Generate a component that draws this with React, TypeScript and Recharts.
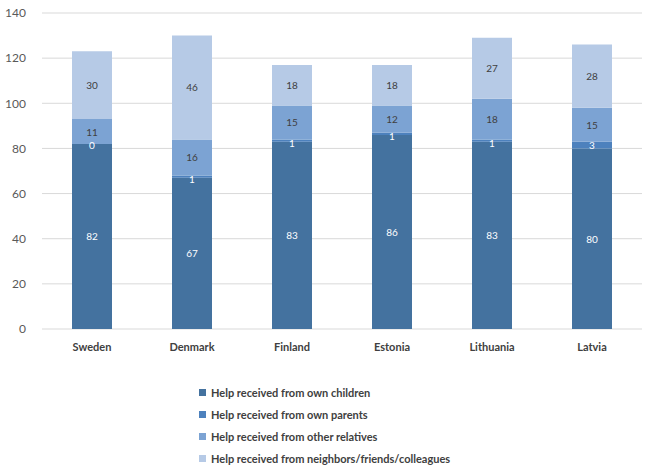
import { BarChart, Bar, XAxis, YAxis, CartesianGrid, LabelList } from "recharts";

const countries = ["Sweden", "Denmark", "Finland", "Estonia", "Lithuania", "Latvia"];
const ownChildren = [82, 67, 83, 86, 83, 80];
const ownParents = [0, 1, 1, 1, 1, 3];
const otherRelatives = [11, 16, 15, 12, 18, 15];
const neighbors = [30, 46, 18, 18, 27, 28];
const yTicks = [0, 20, 40, 60, 80, 100, 120, 140];

const series = [
  { key: "children", name: "Help received from own children", color: "#44729f", label: "#ffffff" },
  { key: "parents", name: "Help received from own parents", color: "#4d81bd", label: "#ffffff" },
  { key: "relatives", name: "Help received from other relatives", color: "#7ca3d3", label: "#404040" },
  { key: "neighbors", name: "Help received from neighbors/friends/colleagues", color: "#b6cae6", label: "#404040" },
];

const data = countries.map((c, i) => ({
  country: c,
  children: ownChildren[i],
  parents: ownParents[i],
  relatives: otherRelatives[i],
  neighbors: neighbors[i],
}));

const font = "Lato, 'Open Sans', sans-serif";

// segment value centred in its bar; thin segments get nudged down a touch
function segmentLabel(color: string) {
  return (props: any) => {
    const { x, y, width, height, value } = props;
    if (value == null || x == null) return null;
    const h = Math.abs(Number(height) || 0);
    return (
      <text
        x={Number(x) + Number(width) / 2}
        y={Number(y) + h / 2 + (h < 4 ? 2 : 0)}
        textAnchor="middle"
        dominantBaseline="central"
        fill={color}
        fontSize={10}
        fontFamily={font}
      >
        {value}
      </text>
    );
  };
}

function LegendList() {
  return (
    <div
      style={{
        position: "absolute",
        left: 199,
        top: 381,
        fontFamily: font,
        fontSize: 11,
        fontWeight: 700,
        color: "#404040",
      }}
    >
      {series.map((s) => (
        <div key={s.key} style={{ display: "flex", alignItems: "center", height: 22 }}>
          <span style={{ width: 7, height: 7, background: s.color, display: "inline-block", marginRight: 5 }} />
          {s.name}
        </div>
      ))}
    </div>
  );
}

export default function App() {
  return (
    <div style={{ position: "absolute", left: 0, top: 0, width: 645, height: 466, background: "#fff" }}>
      <BarChart
        width={645}
        height={466}
        data={data}
        margin={{ top: 13, right: 3, bottom: 107, left: 0 }}
        barCategoryGap="30%"
      >
        <CartesianGrid vertical={false} stroke="#d9d9d9" />
        <XAxis
          dataKey="country"
          axisLine={false}
          tickLine={false}
          tick={{ fontSize: 11, fontWeight: 700, fill: "#404040", fontFamily: font }}
          tickMargin={8}
        />
        <YAxis
          width={42}
          domain={[0, 140]}
          ticks={yTicks}
          axisLine={false}
          tickLine={false}
          tick={{ fontSize: 12, fill: "#595959", fontFamily: font }}
          tickMargin={10}
        />
        {series.map((s) => (
          <Bar
            key={s.key}
            dataKey={s.key}
            name={s.name}
            stackId="a"
            fill={s.color}
            minPointSize={s.key === "parents" ? 1 : 0}
            isAnimationActive={false}
          >
            <LabelList dataKey={s.key} content={segmentLabel(s.label)} />
          </Bar>
        ))}
      </BarChart>
      <LegendList />
    </div>
  );
}
